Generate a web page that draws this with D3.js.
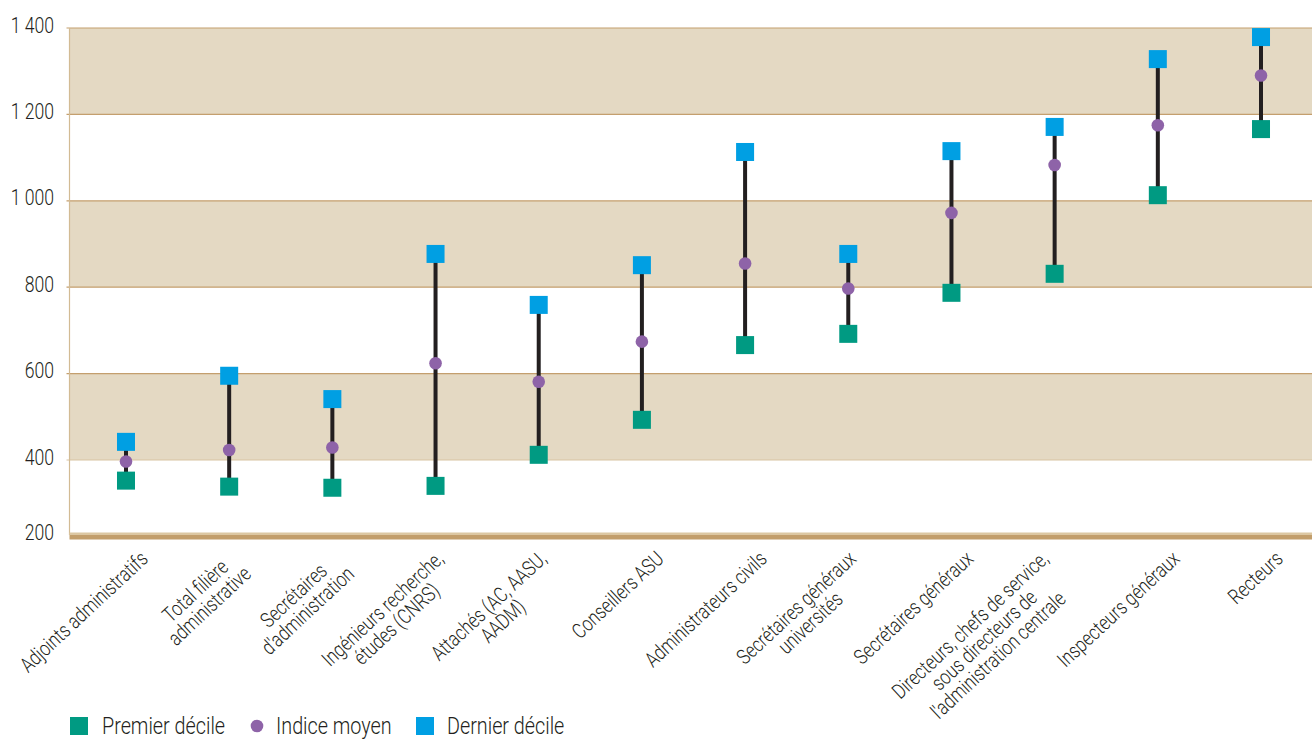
<!DOCTYPE html>
<html>
<head>
<meta charset="utf-8">
<script src="https://cdn.jsdelivr.net/npm/d3@7"></script>
<style>
  html, body { margin: 0; padding: 0; background: #ffffff; }
  svg { display: block; }
  text { font-family: Roboto, "Liberation Sans", sans-serif; font-weight: 300; fill: #231f20; }
</style>
</head>
<body>
<svg id="chart" width="1312" height="740"></svg>
<script>
const categories = [
  "Adjoints administratifs",
  "Total filière\nadministrative",
  "Secrétaires\nd'administration",
  "Ingénieurs recherche,\nétudes (CNRS)",
  "Attachés (AC, AASU,\nAADM)",
  "Conseillers ASU",
  "Administrateurs civils",
  "Secrétaires généraux\nuniversités",
  "Secrétaires généraux",
  "Directeurs, chefs de service,\nsous directeurs de\nl'administration centrale",
  "Inspecteurs généraux",
  "Recteurs"
];
const premierDecile = [345, 329, 326, 331, 412, 493, 666, 692, 787, 831, 1013, 1166];
const indiceMoyen   = [396, 423, 429, 624, 581, 674, 855, 797, 972, 1083, 1175, 1290];
const dernierDecile = [442, 595, 541, 877, 759, 851, 1113, 877, 1115, 1171, 1328, 1379];
const yTicks = [200, 400, 600, 800, 1000, 1200, 1400];
const bands = [[400, 600], [800, 1000], [1200, 1400]];
const legendItems = ["Premier décile", "Indice moyen", "Dernier décile"];

const COL_GREEN = "#009a82", COL_PURPLE = "#8e63a8", COL_BLUE = "#009fe3";
const NARROW = 0.8; // horizontal condensing to mimic a condensed typeface
const svg = d3.select("#chart");
const W = 1312;
const left = 69.5;

// piecewise y scale (axis bottom compressed below 400)
const y = d3.scaleLinear().domain([200, 400, 1400]).range([535, 460, 28]);
const x = d3.scaleBand().domain(categories).range([74.4, 1312.6]).paddingInner(0).paddingOuter(0);
const cx = c => x(c) + x.bandwidth() / 2;

// bands
svg.append("g").selectAll("rect").data(bands).join("rect")
  .attr("x", left).attr("width", W - left)
  .attr("y", d => y(d[1])).attr("height", d => y(d[0]) - y(d[1]))
  .attr("fill", "#e4d9c3");

// grid lines
svg.append("g").selectAll("line").data(yTicks.filter(v => v > 200)).join("line")
  .attr("x1", left - 3).attr("x2", W)
  .attr("y1", d => y(d)).attr("y2", d => y(d))
  .attr("stroke", d => d === 400 ? "#d7c3a2" : "#c49f6e").attr("stroke-width", 1.2);

// left axis line
svg.append("line").attr("x1", left).attr("x2", left).attr("y1", y(1400)).attr("y2", y(200))
  .attr("stroke", "#d2bb94").attr("stroke-width", 1.2);

// y axis labels via d3 axis
const yAxis = d3.axisLeft(y).tickValues(yTicks).tickSize(0).tickPadding(0)
  .tickFormat(d => d3.format(",")(d).replace(/,/g, " "));
const ga = svg.append("g").attr("transform", `translate(54,-3)`).call(yAxis);
ga.select(".domain").remove();
ga.selectAll("text").style("font-size", "22px").attr("fill", "#231f20")
  .style("font-family", "Roboto, 'Liberation Sans', sans-serif").style("font-weight", 300)
  .attr("x", 0).attr("transform", `scale(${NARROW},1)`);

// bottom thick axis
svg.append("rect").attr("x", left).attr("width", W - left).attr("y", y(200) - 2.5).attr("height", 2.5).attr("fill", "#dcc7a2");
svg.append("rect").attr("x", left).attr("width", W - left).attr("y", y(200)).attr("height", 4.5).attr("fill", "#c29e6b");

// range lines
const g = svg.append("g");
g.selectAll("line.rng").data(categories).join("line").attr("class", "rng")
  .attr("x1", d => cx(d)).attr("x2", d => cx(d))
  .attr("y1", (d, i) => y(premierDecile[i])).attr("y2", (d, i) => y(dernierDecile[i]))
  .attr("stroke", "#231f20").attr("stroke-width", 4);
const S = 18;
g.selectAll("rect.p").data(categories).join("rect").attr("class", "p")
  .attr("x", d => cx(d) - S / 2).attr("y", (d, i) => y(premierDecile[i]) - S / 2)
  .attr("width", S).attr("height", S).attr("fill", COL_GREEN);
g.selectAll("rect.d").data(categories).join("rect").attr("class", "d")
  .attr("x", d => cx(d) - S / 2).attr("y", (d, i) => y(dernierDecile[i]) - S / 2)
  .attr("width", S).attr("height", S).attr("fill", COL_BLUE);
g.selectAll("circle").data(categories).join("circle")
  .attr("cx", d => cx(d)).attr("cy", (d, i) => y(indiceMoyen[i]))
  .attr("r", 6.3).attr("fill", COL_PURPLE);

// category labels, rotated
const labG = svg.append("g");
categories.forEach(c => {
  const outer = labG.append("g");
  const inner = outer.append("g").attr("transform", `rotate(-43) scale(${NARROW},1)`);
  const lines = c.split("\n");
  const t = inner.append("text").style("font-size", "21px").attr("text-anchor", "middle");
  lines.forEach((ln, i) => {
    t.append("tspan").attr("x", 0).attr("dy", i === 0 ? "0.75em" : "0.98em").text(ln);
  });
  const tb = t.node().getBBox();
  t.selectAll("tspan").attr("x", -tb.width / 2);
  const bb = outer.node().getBBox();
  const tx = cx(c) + 27 - (bb.x + bb.width);
  const ty = 546 - bb.y;
  outer.attr("transform", `translate(${tx},${ty})`);
});

// legend
const lg = svg.append("g");
const legY = 726;
const legText = (xx, s) => lg.append("g").attr("transform", `translate(${xx},${legY}) scale(0.86,1)`)
  .append("text").attr("dy", "0.36em").style("font-size", "23px").text(s);
lg.append("rect").attr("x", 70).attr("y", legY - 9).attr("width", S).attr("height", S).attr("fill", COL_GREEN);
legText(102, legendItems[0]);
lg.append("circle").attr("cx", 257).attr("cy", legY).attr("r", 6.3).attr("fill", COL_PURPLE);
legText(276, legendItems[1]);
lg.append("rect").attr("x", 416).attr("y", legY - 9).attr("width", S).attr("height", S).attr("fill", COL_BLUE);
legText(447, legendItems[2]);
</script>
</body>
</html>
